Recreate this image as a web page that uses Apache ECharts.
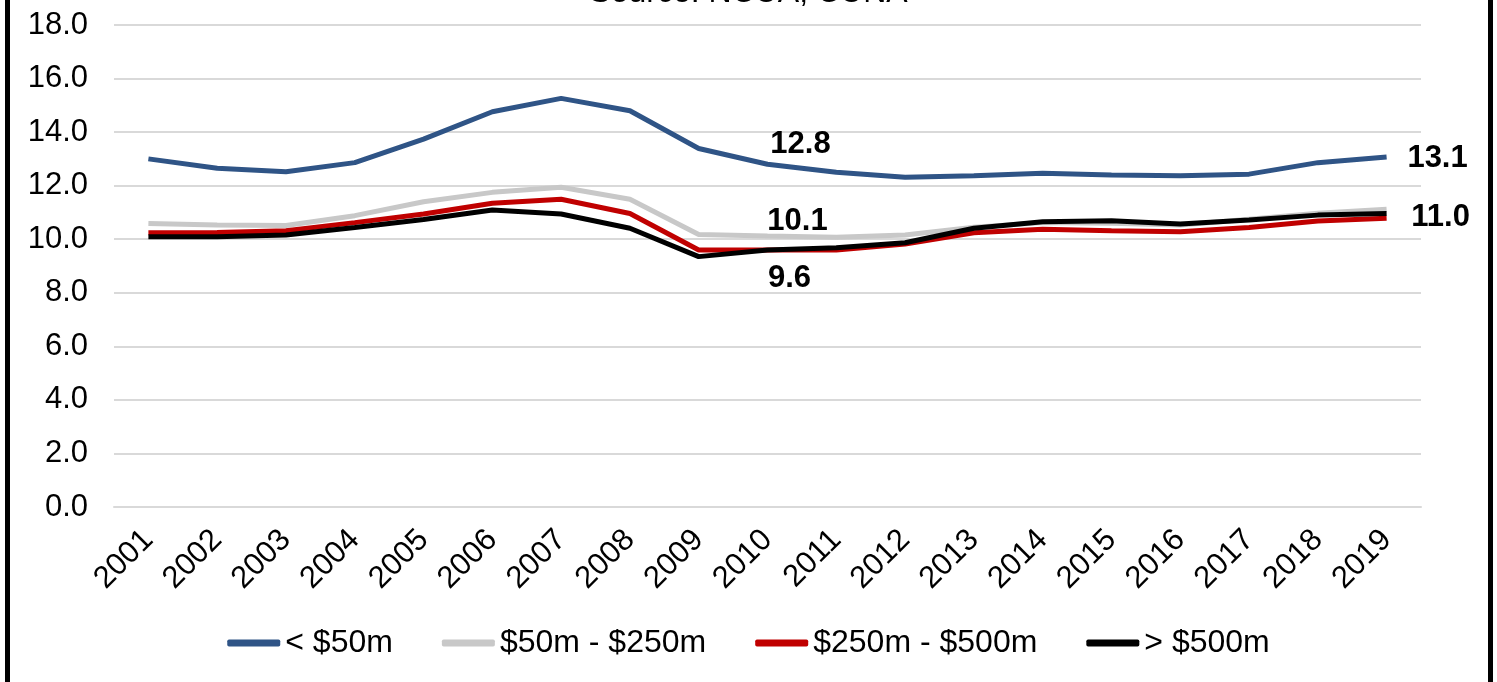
<!DOCTYPE html>
<html>
<head>
<meta charset="utf-8">
<script src="https://cdn.jsdelivr.net/npm/echarts@6/dist/echarts.min.js"></script>
<style>
  html, body { margin: 0; padding: 0; background: #fff; }
  #main { width: 1497px; height: 682px; }
</style>
</head>
<body>
<div id="main"></div>
<script>
const years = ['2001','2002','2003','2004','2005','2006','2007','2008','2009','2010',
               '2011','2012','2013','2014','2015','2016','2017','2018','2019'];

const under50m   = [13.0, 12.65, 12.52, 12.86, 13.74, 14.76, 15.26, 14.8, 13.39, 12.8,
                    12.5, 12.31, 12.37, 12.46, 12.4, 12.37, 12.43, 12.86, 13.07];
const m50to250   = [10.59, 10.53, 10.51, 10.88, 11.4, 11.75, 11.94, 11.49, 10.18, 10.12,
                    10.07, 10.16, 10.45, 10.62, 10.6, 10.53, 10.75, 10.97, 11.12];
const m250to500  = [10.24, 10.25, 10.32, 10.62, 10.94, 11.34, 11.49, 10.96, 9.6, 9.6,
                    9.6, 9.82, 10.24, 10.37, 10.32, 10.28, 10.44, 10.68, 10.78];
const over500m   = [10.09, 10.09, 10.16, 10.44, 10.74, 11.09, 10.94, 10.41, 9.35, 9.6,
                    9.68, 9.87, 10.41, 10.65, 10.69, 10.57, 10.72, 10.9, 10.96];

const seriesNames = ['< $50m', '$50m - $250m', '$250m - $500m', '> $500m'];
const seriesColors = ['#2F5486', '#C8C8C8', '#C00000', '#000000'];

const FONT = 'Liberation Sans';

// which points carry a value label; position is the label centre relative to the point
const labelSpots = [
  {9: [33, -20], 18: [51, 1]},
  {9: [30, -15]},
  {},
  {9: [22, 29], 18: [54, 4]}
];

function buildData(values, spots) {
  return values.map(function (v, i) {
    if (!spots[i]) return v;
    return {
      value: v,
      label: {
        show: true,
        position: spots[i],
        align: 'center',
        verticalAlign: 'middle',
        formatter: function (p) { return p.value.toFixed(1); },
        fontFamily: FONT,
        fontWeight: 'bold',
        fontSize: 31,
        color: '#000'
      }
    };
  });
}

const allValues = [under50m, m50to250, m250to500, over500m];
const seriesList = [];
for (let i = 0; i < allValues.length; i++) {
  seriesList.push({
    name: seriesNames[i],
    type: 'line',
    symbol: 'circle',
    symbolSize: 0.1,
    showSymbol: true,
    smooth: false,
    lineStyle: { color: seriesColors[i], width: 5 },
    itemStyle: { color: seriesColors[i] },
    labelLayout: { hideOverlap: false },
    data: buildData(allValues[i], labelSpots[i])
  });
}

const chart = echarts.init(document.getElementById('main'));

chart.setOption({
  backgroundColor: '#ffffff',
  animation: false,
  title: {
    text: 'Source: NCUA, CUNA',
    left: 'center',
    top: -28,
    textStyle: { fontFamily: FONT, fontSize: 32, fontWeight: 'normal', color: '#000' }
  },
  legend: {
    data: seriesNames.map(function (n) { return { name: n, icon: 'roundRect' }; }),
    left: 'center',
    top: 622,
    itemWidth: 53,
    itemHeight: 7,
    itemGap: 49,
    textStyle: { fontFamily: FONT, fontSize: 32, color: '#000' }
  },
  grid: {
    left: 114,
    right: 76,
    top: 25,
    bottom: 175
  },
  xAxis: {
    type: 'category',
    data: years,
    boundaryGap: true,
    axisLine: { show: true, lineStyle: { color: '#d9d9d9', width: 2 } },
    axisTick: { show: false },
    axisLabel: {
      rotate: 45,
      margin: 28,
      interval: 0,
      fontFamily: FONT,
      fontSize: 31,
      color: '#000'
    }
  },
  yAxis: {
    type: 'value',
    min: 0,
    max: 18,
    interval: 2,
    axisLine: { show: false },
    axisTick: { show: false },
    axisLabel: {
      margin: 26,
      fontFamily: FONT,
      fontSize: 31,
      color: '#000',
      formatter: function (v) { return v.toFixed(1); }
    },
    splitLine: { lineStyle: { color: '#d9d9d9', width: 2 } }
  },
  graphic: [
    { type: 'rect', left: 5, top: 0, shape: { width: 5, height: 682 }, style: { fill: '#000' } },
    { type: 'rect', left: 1488, top: 0, shape: { width: 5, height: 682 }, style: { fill: '#000' } }
  ],
  series: seriesList
});
</script>
</body>
</html>
